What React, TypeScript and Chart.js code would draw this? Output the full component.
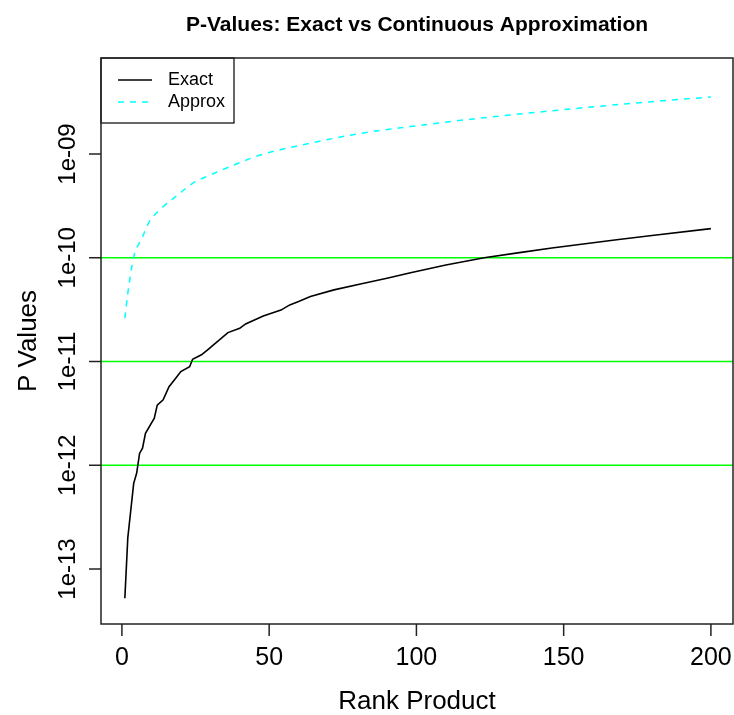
import React, { useEffect, useRef } from "react";
import { Chart, registerables } from "chart.js";

Chart.register(...registerables);

// ---- data ----
const exactRank = [1, 2, 4, 5, 6, 7, 8, 11, 12, 14, 16, 18, 20, 23, 24, 27, 29, 32, 36, 40, 42, 48, 54, 57, 60, 64, 72, 81, 90, 98, 110, 123, 135, 146, 168, 180, 200];
const exactP = [5.22e-14, 2.0e-13, 6.7e-13, 8.36e-13, 1.3e-12, 1.46e-12, 2.03e-12, 2.84e-12, 3.8e-12, 4.27e-12, 5.71e-12, 6.76e-12, 8.0e-12, 8.91e-12, 1.05e-11, 1.16e-11, 1.29e-11, 1.52e-11, 1.9e-11, 2.09e-11, 2.3e-11, 2.75e-11, 3.13e-11, 3.51e-11, 3.78e-11, 4.24e-11, 4.9e-11, 5.58e-11, 6.34e-11, 7.18e-11, 8.51e-11, 1.0e-10, 1.12e-10, 1.24e-10, 1.49e-10, 1.64e-10, 1.91e-10];

const approxRank = [1, 2, 3, 4, 7, 9, 14, 19, 24, 30, 38, 47, 64, 81, 98, 120, 146, 170, 200];
const approxP = [2.61e-11, 4.54e-11, 7.08e-11, 1.02e-10, 1.59e-10, 2.15e-10, 3.1e-10, 4.03e-10, 5.22e-10, 6.28e-10, 7.83e-10, 9.77e-10, 1.27e-9, 1.58e-9, 1.84e-9, 2.19e-9, 2.61e-9, 3.02e-9, 3.55e-9];

const xTicks = [0, 50, 100, 150, 200];
const xTickLabels = ["0", "50", "100", "150", "200"];
const yTicks = [1e-13, 1e-12, 1e-11, 1e-10, 1e-9];
const yTickLabels = ["1e-13", "1e-12", "1e-11", "1e-10", "1e-09"];
const refLines = [1e-10, 1e-11, 1e-12];

const titleText = "P-Values: Exact vs Continuous Approximation";
const xTitle = "Rank Product";
const yTitle = "P Values";
const legendLabels = ["Exact", "Approx"];

const FONT = "'Liberation Sans', Arial, Helvetica, sans-serif";

const rPlot = {
  id: "rPlot",
  beforeDatasetsDraw(chart: any) {
    const { ctx, chartArea: a, scales } = chart;
    const y = scales.y;
    ctx.save();
    ctx.strokeStyle = "#00FF00";
    ctx.lineWidth = 1.5;
    refLines.forEach((v) => {
      const py = y.getPixelForValue(v);
      ctx.beginPath();
      ctx.moveTo(a.left, py);
      ctx.lineTo(a.right, py);
      ctx.stroke();
    });
    ctx.restore();
  },
  afterDraw(chart: any) {
    const { ctx, chartArea: a, scales } = chart;
    const x = scales.x;
    const y = scales.y;
    ctx.save();

    // legend box
    const lx0 = a.left, ly0 = a.top, lx1 = 234, ly1 = 123;
    ctx.fillStyle = "#ffffff";
    ctx.fillRect(lx0, ly0, lx1 - lx0, ly1 - ly0);
    ctx.strokeStyle = "#000000";
    ctx.lineWidth = 1.2;
    ctx.strokeRect(lx0, ly0, lx1 - lx0, ly1 - ly0);
    ctx.lineWidth = 1.5;
    ctx.beginPath();
    ctx.moveTo(118, 80);
    ctx.lineTo(152, 80);
    ctx.stroke();
    ctx.strokeStyle = "#00FFFF";
    ctx.setLineDash([6, 6]);
    ctx.beginPath();
    ctx.moveTo(118, 102);
    ctx.lineTo(152, 102);
    ctx.stroke();
    ctx.setLineDash([]);
    ctx.fillStyle = "#000000";
    ctx.font = `18px ${FONT}`;
    ctx.textAlign = "left";
    ctx.textBaseline = "middle";
    ctx.fillText(legendLabels[0], 168, 80);
    ctx.fillText(legendLabels[1], 168, 102);

    // box
    ctx.strokeStyle = "#222222";
    ctx.lineWidth = 1.5;
    ctx.strokeRect(a.left, a.top, a.right - a.left, a.bottom - a.top);

    // x axis ticks + labels
    ctx.strokeStyle = "#222222";
    ctx.font = `25px ${FONT}`;
    ctx.textAlign = "center";
    ctx.textBaseline = "alphabetic";
    xTicks.forEach((v, i) => {
      const px = x.getPixelForValue(v);
      ctx.beginPath();
      ctx.moveTo(px, a.bottom);
      ctx.lineTo(px, a.bottom + 12);
      ctx.stroke();
      ctx.fillText(xTickLabels[i], px, 665);
    });

    // y axis ticks + labels (rotated)
    ctx.font = `24px ${FONT}`;
    yTicks.forEach((v, i) => {
      const py = y.getPixelForValue(v);
      ctx.beginPath();
      ctx.moveTo(a.left - 12, py);
      ctx.lineTo(a.left, py);
      ctx.stroke();
      ctx.save();
      ctx.translate(75, py);
      ctx.rotate(-Math.PI / 2);
      ctx.fillText(yTickLabels[i], 0, 0);
      ctx.restore();
    });

    // axis titles
    ctx.font = `26px ${FONT}`;
    ctx.fillText(xTitle, (a.left + a.right) / 2, 709);
    ctx.save();
    ctx.translate(36, (a.top + a.bottom) / 2);
    ctx.rotate(-Math.PI / 2);
    ctx.fillText(yTitle, 0, 0);
    ctx.restore();

    // main title
    ctx.font = `bold 21px ${FONT}`;
    ctx.fillText(titleText, (a.left + a.right) / 2, 30.5);

    ctx.restore();
  },
};

export default function App() {
  const ref = useRef<HTMLCanvasElement | null>(null);
  useEffect(() => {
    document.body.style.margin = "0";
    const canvas = ref.current;
    if (!canvas) return;
    const chart = new Chart(canvas, {
      type: "line",
      data: {
        datasets: [
          {
            label: legendLabels[0],
            data: exactRank.map((r, i) => ({ x: r, y: exactP[i] })),
            borderColor: "#000000",
            borderWidth: 1.6,
            pointRadius: 0,
            tension: 0,
          },
          {
            label: legendLabels[1],
            data: approxRank.map((r, i) => ({ x: r, y: approxP[i] })),
            borderColor: "#00FFFF",
            borderWidth: 1.5,
            borderDash: [6, 6],
            pointRadius: 0,
            cubicInterpolationMode: "monotone",
          },
        ],
      },
      options: {
        responsive: false,
        maintainAspectRatio: false,
        devicePixelRatio: 1,
        animation: false,
        layout: { padding: { left: 101, right: 1, top: 58, bottom: 91 } },
        plugins: { legend: { display: false }, tooltip: { enabled: false } },
        scales: {
          x: { type: "linear", display: false, min: -7.1, max: 207.5 },
          y: { type: "logarithmic", display: false, min: Math.pow(10, -13.53), max: Math.pow(10, -8.0747) },
        },
      },
      plugins: [rPlot],
    });
    return () => chart.destroy();
  }, []);
  return <canvas ref={ref} width={734} height={715} style={{ display: "block" }} />;
}
